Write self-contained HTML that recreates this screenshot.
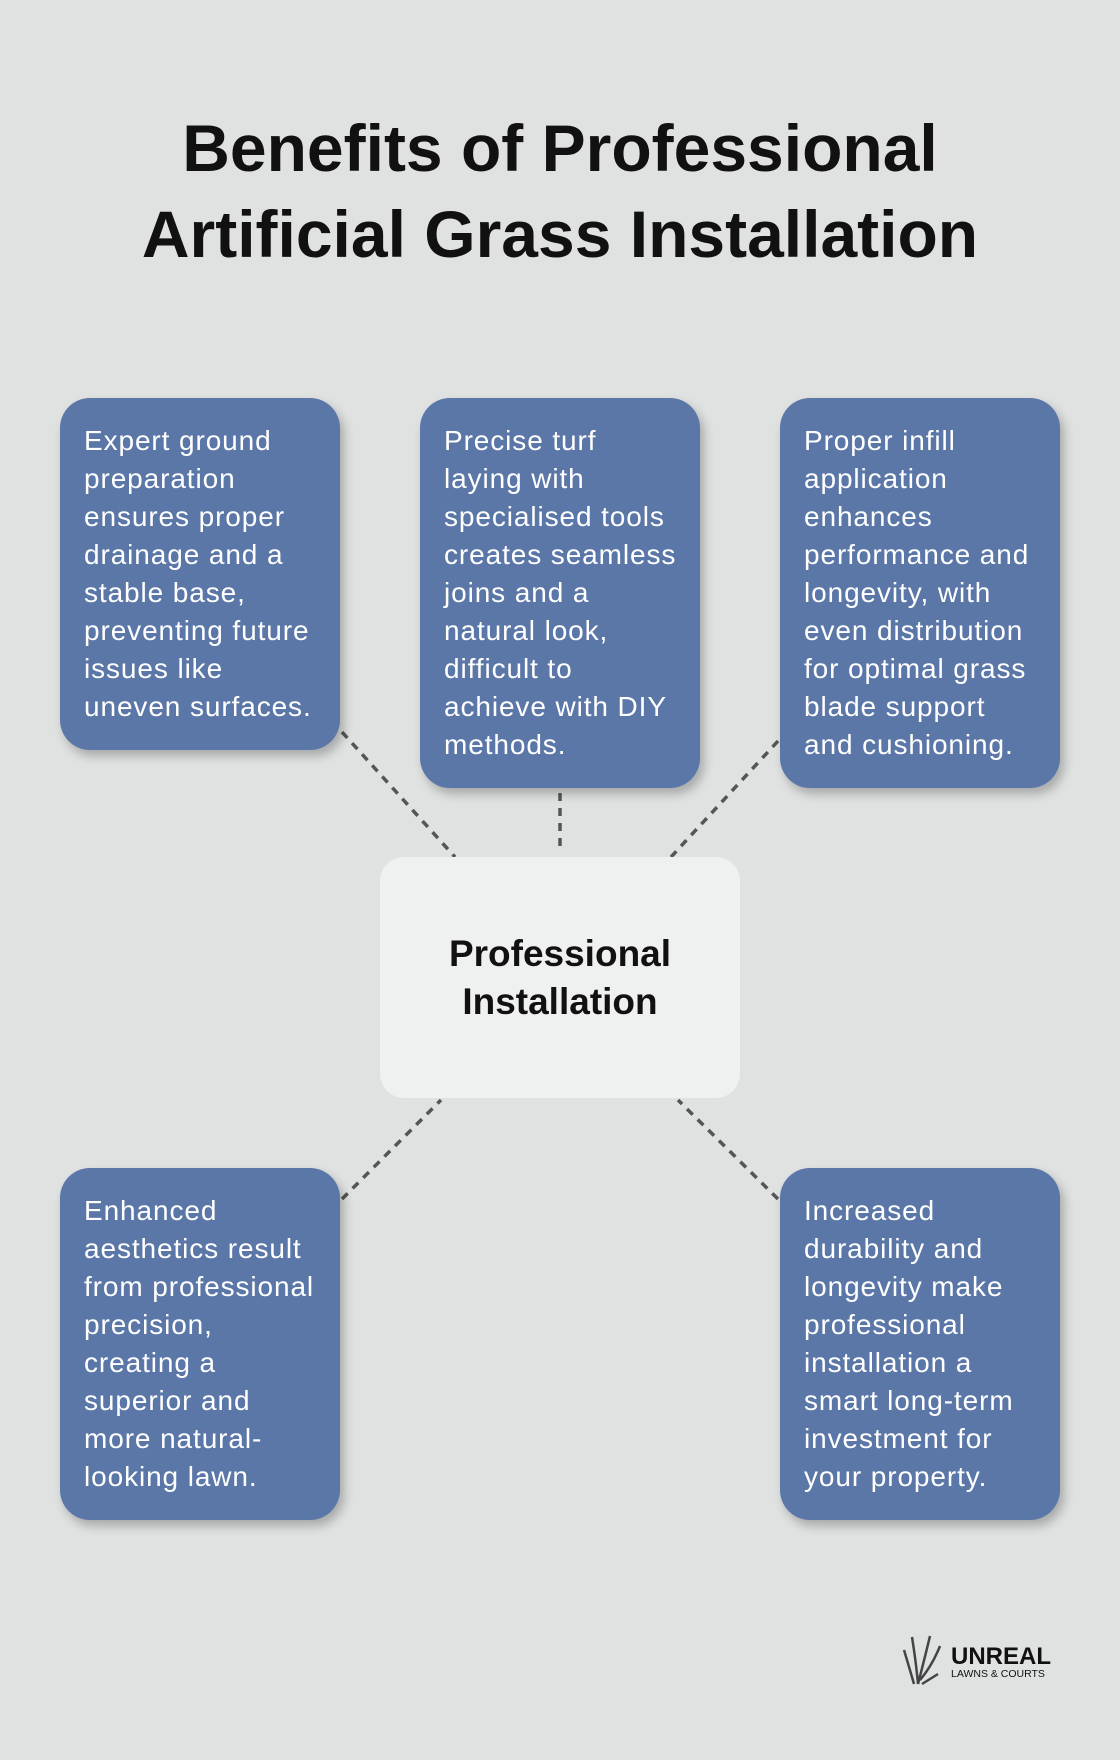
<!DOCTYPE html>
<html><head><meta charset="utf-8"><style>
body{margin:0;width:1120px;height:1760px;background:#dfe2e1;position:relative;font-family:"Liberation Sans",sans-serif;overflow:hidden}
h1{position:absolute;left:0;top:105px;width:1120px;margin:0;text-align:center;font-size:66px;line-height:86px;font-weight:bold;color:#111}
.b{position:absolute;width:280px;background:#5b77a8;border-radius:30px;box-shadow:4px 6px 10px rgba(0,0,0,.25);color:#fff;font-size:28px;letter-spacing:0.9px;line-height:38px;box-sizing:border-box;padding:24px 0 0 24px;white-space:nowrap}
.c{position:absolute;left:380px;top:857px;width:360px;height:241px;background:#eff1f0;border-radius:24px;display:flex;align-items:center;justify-content:center;text-align:center;font-weight:bold;font-size:37px;line-height:48px;color:#111}
svg{position:absolute;left:0;top:0}
</style></head><body>
<h1>Benefits of Professional<br>Artificial Grass Installation</h1>
<svg width="1120" height="1760"><g stroke="#555" stroke-width="3.5" stroke-dasharray="8 7" fill="none">
<line x1="342" y1="732" x2="455" y2="857"/><line x1="560" y1="793" x2="560" y2="853"/><line x1="778" y1="741" x2="671" y2="857"/>
<line x1="342" y1="1199" x2="441" y2="1100"/><line x1="778" y1="1199" x2="678" y2="1100"/></g></svg>
<div class="b" style="left:60px;top:398px;height:352px">Expert ground<br>preparation<br>ensures proper<br>drainage and a<br>stable base,<br>preventing future<br>issues like<br>uneven surfaces.</div>
<div class="b" style="left:420px;top:398px;height:390px">Precise turf<br>laying with<br>specialised tools<br>creates seamless<br>joins and a<br>natural look,<br>difficult to<br>achieve with DIY<br>methods.</div>
<div class="b" style="left:780px;top:398px;height:390px">Proper infill<br>application<br>enhances<br>performance and<br>longevity, with<br>even distribution<br>for optimal grass<br>blade support<br>and cushioning.</div>
<div class="c">Professional<br>Installation</div>
<div class="b" style="left:60px;top:1168px;height:352px">Enhanced<br>aesthetics result<br>from professional<br>precision,<br>creating a<br>superior and<br>more natural-<br>looking lawn.</div>
<div class="b" style="left:780px;top:1168px;height:352px">Increased<br>durability and<br>longevity make<br>professional<br>installation a<br>smart long-term<br>investment for<br>your property.</div>
<svg width="1120" height="1760"><g stroke="#444" stroke-width="2.5" fill="none">
<path d="M904 1650 q6 20 10 34"/><path d="M912 1637 q4 25 6 47"/><path d="M930 1636 q-6 25 -12 48"/><path d="M940 1646 q-8 20 -20 34"/><path d="M922 1684 l16 -10"/></g>
<text x="951" y="1664" font-family="Liberation Sans" font-weight="bold" font-size="24" fill="#111">UNREAL</text>
<text x="951" y="1677" font-family="Liberation Sans" font-size="10.5" fill="#111">LAWNS &amp; COURTS</text></svg>
</body></html>
